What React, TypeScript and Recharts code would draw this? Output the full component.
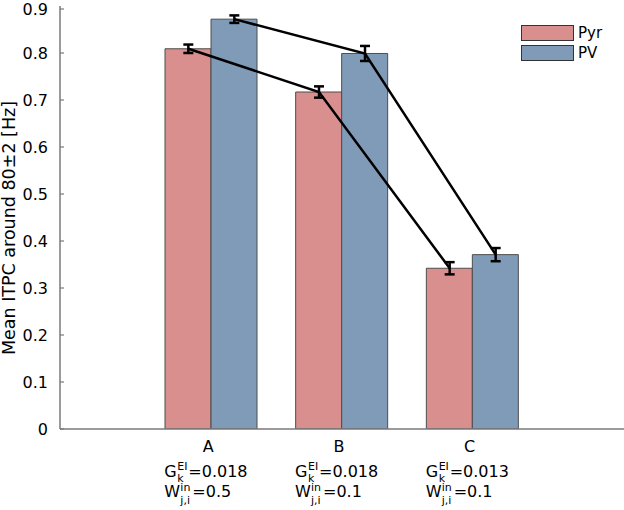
import { ComposedChart, Bar, Line, XAxis, YAxis, ErrorBar, Legend } from "recharts";

// groups and their parameter labels
const groups = ["A", "B", "C"];
const gEI = ["0.018", "0.018", "0.013"];
const wIn = ["0.5", "0.1", "0.1"];
const seriesNames = ["Pyr", "PV"];

// mean ITPC and error half-widths
const pyrMean = [0.809, 0.717, 0.342];
const pvMean = [0.872, 0.799, 0.371];
const pyrErr = [0.009, 0.012, 0.013];
const pvErr = [0.008, 0.016, 0.014];

const yTicks = [0, 0.1, 0.2, 0.3, 0.4, 0.5, 0.6, 0.7, 0.8, 0.9];

const PYR = "#d98f8d";
const PV = "#7f9bb8";
const AXIS = "#7a7a7a";
const FONT = "'DejaVu Sans', sans-serif";

const W = 624;
const H = 510;
const Y_AXIS_W = 60;
const X_AXIS_H = 81;
const PAD = 86;
const BAR = 46;
const band = (W - Y_AXIS_W - 2 * PAD) / groups.length;
const numDomain = [-0.5 - PAD / band, groups.length - 0.5 + PAD / band];
const off = BAR / 2 / band;

const barData = groups.map((g, i) => ({ group: g, pyr: pyrMean[i], pv: pvMean[i] }));
const pyrLine = groups.map((_, i) => ({ x: i - off, y: pyrMean[i], err: pyrErr[i] }));
const pvLine = groups.map((_, i) => ({ x: i + off, y: pvMean[i], err: pvErr[i] }));

function YTick({ x, y, payload }: any) {
  const ax = x + 12;
  return (
    <g>
      <line x1={ax} x2={ax + 4} y1={y} y2={y} stroke={AXIS} strokeWidth={1.2} />
      <text x={x} y={y} dy={6} textAnchor="end" fontSize={16} fontFamily={FONT} fill="#000">
        {payload.value === 0 ? "0" : payload.value.toFixed(1)}
      </text>
    </g>
  );
}

function XTick({ x, y, payload, index }: any) {
  const i = index ?? groups.indexOf(payload.value);
  const lx = x - 47;
  return (
    <g fontFamily={FONT} fill="#000">
      <text x={x - 3} y={y + 23} textAnchor="middle" fontSize={16}>{payload.value}</text>
      <text x={lx} y={y + 48} fontSize={16}>G</text>
      <text x={lx + 13} y={y + 41} fontSize={11}>EI</text>
      <text x={lx + 13} y={y + 53} fontSize={11}>k</text>
      <text x={lx + 24} y={y + 48} fontSize={16}>={gEI[i]}</text>
      <text x={lx} y={y + 68} fontSize={16}>W</text>
      <text x={lx + 16} y={y + 62} fontSize={11}>in</text>
      <text x={lx + 16} y={y + 75} fontSize={11}>j,i</text>
      <text x={lx + 28} y={y + 68} fontSize={16}>={wIn[i]}</text>
    </g>
  );
}

function LegendBox({ payload }: any) {
  const items = (payload || [])
    .filter((p: any) => seriesNames.includes(p.value))
    .sort((a: any, b: any) => seriesNames.indexOf(a.value) - seriesNames.indexOf(b.value));
  return (
    <div style={{ fontFamily: FONT, fontSize: 15 }}>
      {items.map((p: any) => (
        <div key={p.value} style={{ display: "flex", alignItems: "center", height: 20 }}>
          <div
            style={{
              width: 51,
              height: 14,
              background: p.color,
              border: "1px solid #333",
              marginRight: 4,
            }}
          />
          <span>{p.value}</span>
        </div>
      ))}
    </div>
  );
}

function YLabel() {
  return (
    <text x={15} y={228} transform="rotate(-90 15 228)" textAnchor="middle" fontSize={17.5} fontFamily={FONT} fill="#000">
      Mean ITPC around 80±2 [Hz]
    </text>
  );
}

export default function App() {
  return (
    <div style={{ position: "absolute", left: 0, top: 0, background: "#fff" }}>
      <ComposedChart
        width={W}
        height={H}
        data={barData}
        margin={{ top: 6, right: 0, bottom: 0, left: 0 }}
        barGap={0}
      >
        <XAxis
          dataKey="group"
          height={X_AXIS_H}
          padding={{ left: PAD, right: PAD }}
          axisLine={{ stroke: AXIS, strokeWidth: 1.5 }}
          tickLine={false}
          tickSize={0}
          tickMargin={0}
          tick={<XTick />}
          interval={0}
        />
        <XAxis xAxisId="num" type="number" dataKey="x" domain={numDomain} allowDataOverflow hide />
        <YAxis
          width={Y_AXIS_W}
          domain={[0, 0.9]}
          ticks={yTicks}
          allowDataOverflow
          axisLine={{ stroke: AXIS, strokeWidth: 1.5 }}
          tickLine={false}
          tickSize={0}
          tickMargin={12}
          tick={<YTick />}
          label={<YLabel />}
        />
        <Legend
          layout="vertical"
          verticalAlign="middle"
          align="center"
          content={<LegendBox />}
          wrapperStyle={{ top: 23, left: 521, width: 100 }}
        />
        <Bar dataKey="pyr" name="Pyr" fill={PYR} stroke="#4d4d4d" strokeWidth={1} barSize={BAR} isAnimationActive={false} />
        <Bar dataKey="pv" name="PV" fill={PV} stroke="#4d4d4d" strokeWidth={1} barSize={BAR} isAnimationActive={false} />
        <Line
          data={pyrLine}
          xAxisId="num"
          dataKey="y"
          type="linear"
          stroke="#000"
          strokeWidth={2.5}
          dot={false}
          legendType="none"
          isAnimationActive={false}
        >
          <ErrorBar dataKey="err" width={5} stroke="#000" strokeWidth={2.5} />
        </Line>
        <Line
          data={pvLine}
          xAxisId="num"
          dataKey="y"
          type="linear"
          stroke="#000"
          strokeWidth={2.5}
          dot={false}
          legendType="none"
          isAnimationActive={false}
        >
          <ErrorBar dataKey="err" width={5} stroke="#000" strokeWidth={2.5} />
        </Line>
      </ComposedChart>
    </div>
  );
}
